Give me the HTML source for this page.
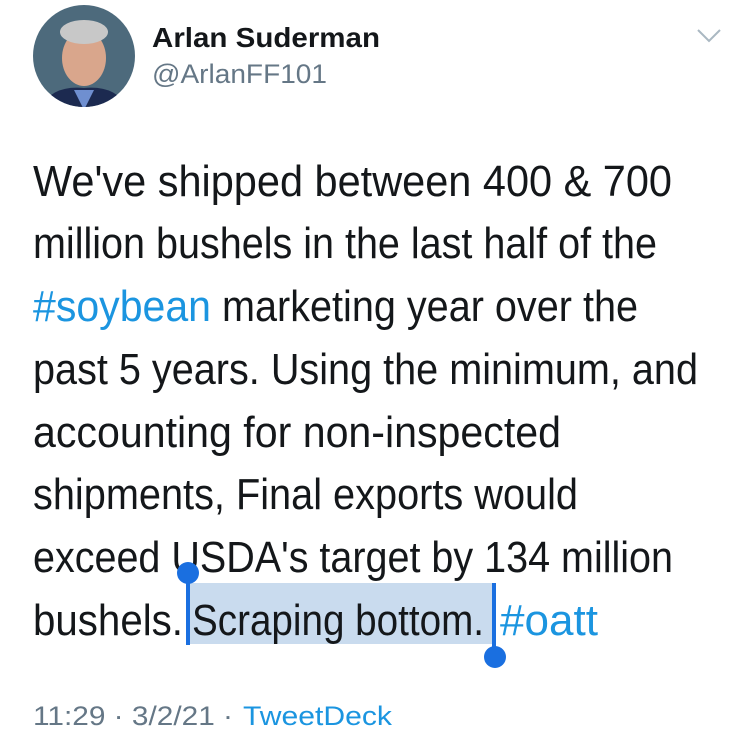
<!DOCTYPE html>
<html><head><meta charset="utf-8"><style>
body{margin:0;width:750px;height:756px;background:#fff;position:relative;overflow:hidden;font-family:"Liberation Sans",sans-serif;}
</style></head><body>
<svg width="750" height="756" style="position:absolute;left:0;top:0" font-family="Liberation Sans, sans-serif">
<g>
<clipPath id="c"><circle cx="84" cy="56" r="51"/></clipPath>
<g clip-path="url(#c)">
<rect x="30" y="0" width="110" height="110" fill="#4d6a7c"/>
<ellipse cx="84" cy="58" rx="22" ry="28" fill="#d9a68c"/>
<ellipse cx="84" cy="32" rx="24" ry="12" fill="#c8c8c8"/>
<path d="M40 110 Q50 85 84 88 Q118 85 128 110Z" fill="#1c2a50"/>
<path d="M74 90 L84 110 L94 90Z" fill="#6f8fd0"/>
</g></g>
<text x="152" y="47" font-size="28" font-weight="bold" fill="#14171a" textLength="228" lengthAdjust="spacingAndGlyphs">Arlan Suderman</text>
<text x="152" y="83" font-size="27" fill="#657786" textLength="175" lengthAdjust="spacingAndGlyphs">@ArlanFF101</text>
<polyline points="698,30 709,41 720,30" fill="none" stroke="#aab8c2" stroke-width="2"/>
<g font-size="44" fill="#14171a">
<text x="33" y="196" textLength="639" lengthAdjust="spacingAndGlyphs">We've shipped between 400 &amp; 700</text>
<text x="33" y="258" textLength="624" lengthAdjust="spacingAndGlyphs">million bushels in the last half of the</text>
<text x="33" y="321" fill="#1b95e0" textLength="178" lengthAdjust="spacingAndGlyphs">#soybean</text>
<text x="222" y="321" textLength="416" lengthAdjust="spacingAndGlyphs">marketing year over the</text>
<text x="33" y="384" textLength="665" lengthAdjust="spacingAndGlyphs">past 5 years. Using the minimum, and</text>
<text x="33" y="447" textLength="528" lengthAdjust="spacingAndGlyphs">accounting for non-inspected</text>
<text x="33" y="509" textLength="545" lengthAdjust="spacingAndGlyphs">shipments, Final exports would</text>
<text x="33" y="572" textLength="640" lengthAdjust="spacingAndGlyphs">exceed USDA's target by 134 million</text>
<rect x="190" y="583" width="304" height="61" fill="#c9dbee"/>
<text x="33" y="635" textLength="150" lengthAdjust="spacingAndGlyphs">bushels.</text>
<text x="192" y="635" textLength="292" lengthAdjust="spacingAndGlyphs">Scraping bottom.</text>
<text x="500" y="635" fill="#1b95e0" textLength="98" lengthAdjust="spacingAndGlyphs">#oatt</text>
</g>
<rect x="186" y="570" width="4" height="75" fill="#1a6fe0"/>
<circle cx="188" cy="573" r="11" fill="#1a6fe0"/>
<rect x="492" y="583" width="4" height="72" fill="#1a6fe0"/>
<circle cx="495" cy="657" r="11" fill="#1a6fe0"/>
<text x="33" y="725" font-size="27" fill="#657786" textLength="200" lengthAdjust="spacingAndGlyphs">11:29 · 3/2/21 ·</text>
<text x="243" y="725" font-size="27" fill="#1b95e0" textLength="149" lengthAdjust="spacingAndGlyphs">TweetDeck</text>
</svg>
</body></html>
